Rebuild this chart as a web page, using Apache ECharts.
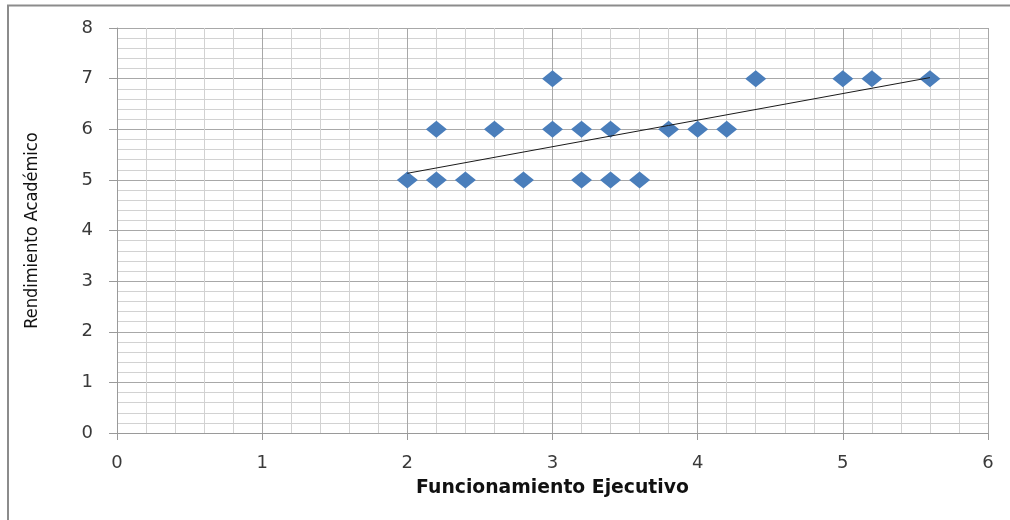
<!DOCTYPE html>
<html>
<head>
<meta charset="utf-8">
<script src="https://cdn.jsdelivr.net/npm/echarts@6/dist/echarts.min.js"></script>
<style>html,body{margin:0;padding:0;background:#fff;}#c{width:1010px;height:520px;}</style>
</head>
<body>
<div id="c"></div>
<script>
// Data
var funcionamiento = [2, 2.2, 2.2, 2.4, 2.6, 2.8, 3, 3, 3.2, 3.2, 3.4, 3.4, 3.6, 3.8, 4, 4.2, 4.4, 5, 5.2, 5.6];
var rendimiento    = [5, 5,   6,   5,   6,   5,   7, 6, 6,   5,   6,   5,   5,   6,   6, 6,   7,   7, 7,   7];
var trendX = [2, 5.6];
var trendY = [5.13, 7.02];
var xTicks = [0, 1, 2, 3, 4, 5, 6];
var yTicks = [0, 1, 2, 3, 4, 5, 6, 7, 8];

var points = funcionamiento.map(function (x, i) { return [x, rendimiento[i]]; });
var trend = trendX.map(function (x, i) { return [x, trendY[i]]; });

var chart = echarts.init(document.getElementById('c'));
var tickFont = '"DejaVu Sans", sans-serif';
chart.setOption({
  animation: false,
  backgroundColor: '#ffffff',
  grid: { left: 117, right: 22, top: 28, bottom: 87 },
  xAxis: {
    type: 'value',
    min: xTicks[0], max: xTicks[xTicks.length - 1], interval: 1,
    name: 'Funcionamiento Ejecutivo',
    nameLocation: 'middle', nameGap: 46,
    nameTextStyle: { fontFamily: tickFont, fontWeight: 'bold', fontSize: 18.8, color: '#111' },
    axisLine: { show: true, lineStyle: { color: '#9a9a9a', width: 1 } },
    axisTick: { show: true, length: 7, lineStyle: { color: '#9a9a9a' } },
    axisLabel: { fontFamily: tickFont, fontSize: 18, color: '#3a3a3a', margin: 21 },
    splitLine: { show: true, lineStyle: { color: '#a8a8a8', width: 1 } },
    minorTick: { show: false, splitNumber: 5 },
    minorSplitLine: { show: true, lineStyle: { color: '#d2d2d2', width: 1 } }
  },
  yAxis: {
    type: 'value',
    min: yTicks[0], max: yTicks[yTicks.length - 1], interval: 1,
    name: 'Rendimiento Académico',
    nameLocation: 'middle', nameGap: 76, nameRotate: 90,
    nameTextStyle: { fontFamily: '"Liberation Sans Narrow", "DejaVu Sans Condensed", sans-serif', fontSize: 18, color: '#111' },
    axisLine: { show: true, lineStyle: { color: '#9a9a9a', width: 1 } },
    axisTick: { show: true, length: 8, lineStyle: { color: '#9a9a9a' } },
    axisLabel: { fontFamily: tickFont, fontSize: 18, color: '#3a3a3a', margin: 24 },
    splitLine: { show: true, lineStyle: { color: '#a8a8a8', width: 1 } },
    minorTick: { show: false, splitNumber: 5 },
    minorSplitLine: { show: true, lineStyle: { color: '#d2d2d2', width: 1 } }
  },
  series: [
    {
      type: 'scatter',
      data: points,
      symbol: 'diamond',
      symbolSize: [21, 17],
      itemStyle: { color: '#4a7ebb', opacity: 1 },
      z: 2
    },
    {
      type: 'line',
      data: trend,
      symbol: 'none',
      lineStyle: { color: '#1a1a1a', width: 1 },
      z: 3
    }
  ],
  graphic: [
    { type: 'line', shape: { x1: 7, y1: 5.5, x2: 1010, y2: 5.5 }, style: { stroke: '#8c8c8c', lineWidth: 2 } },
    { type: 'line', shape: { x1: 8, y1: 5, x2: 8, y2: 520 }, style: { stroke: '#8c8c8c', lineWidth: 2 } }
  ]
});
</script>
</body>
</html>
